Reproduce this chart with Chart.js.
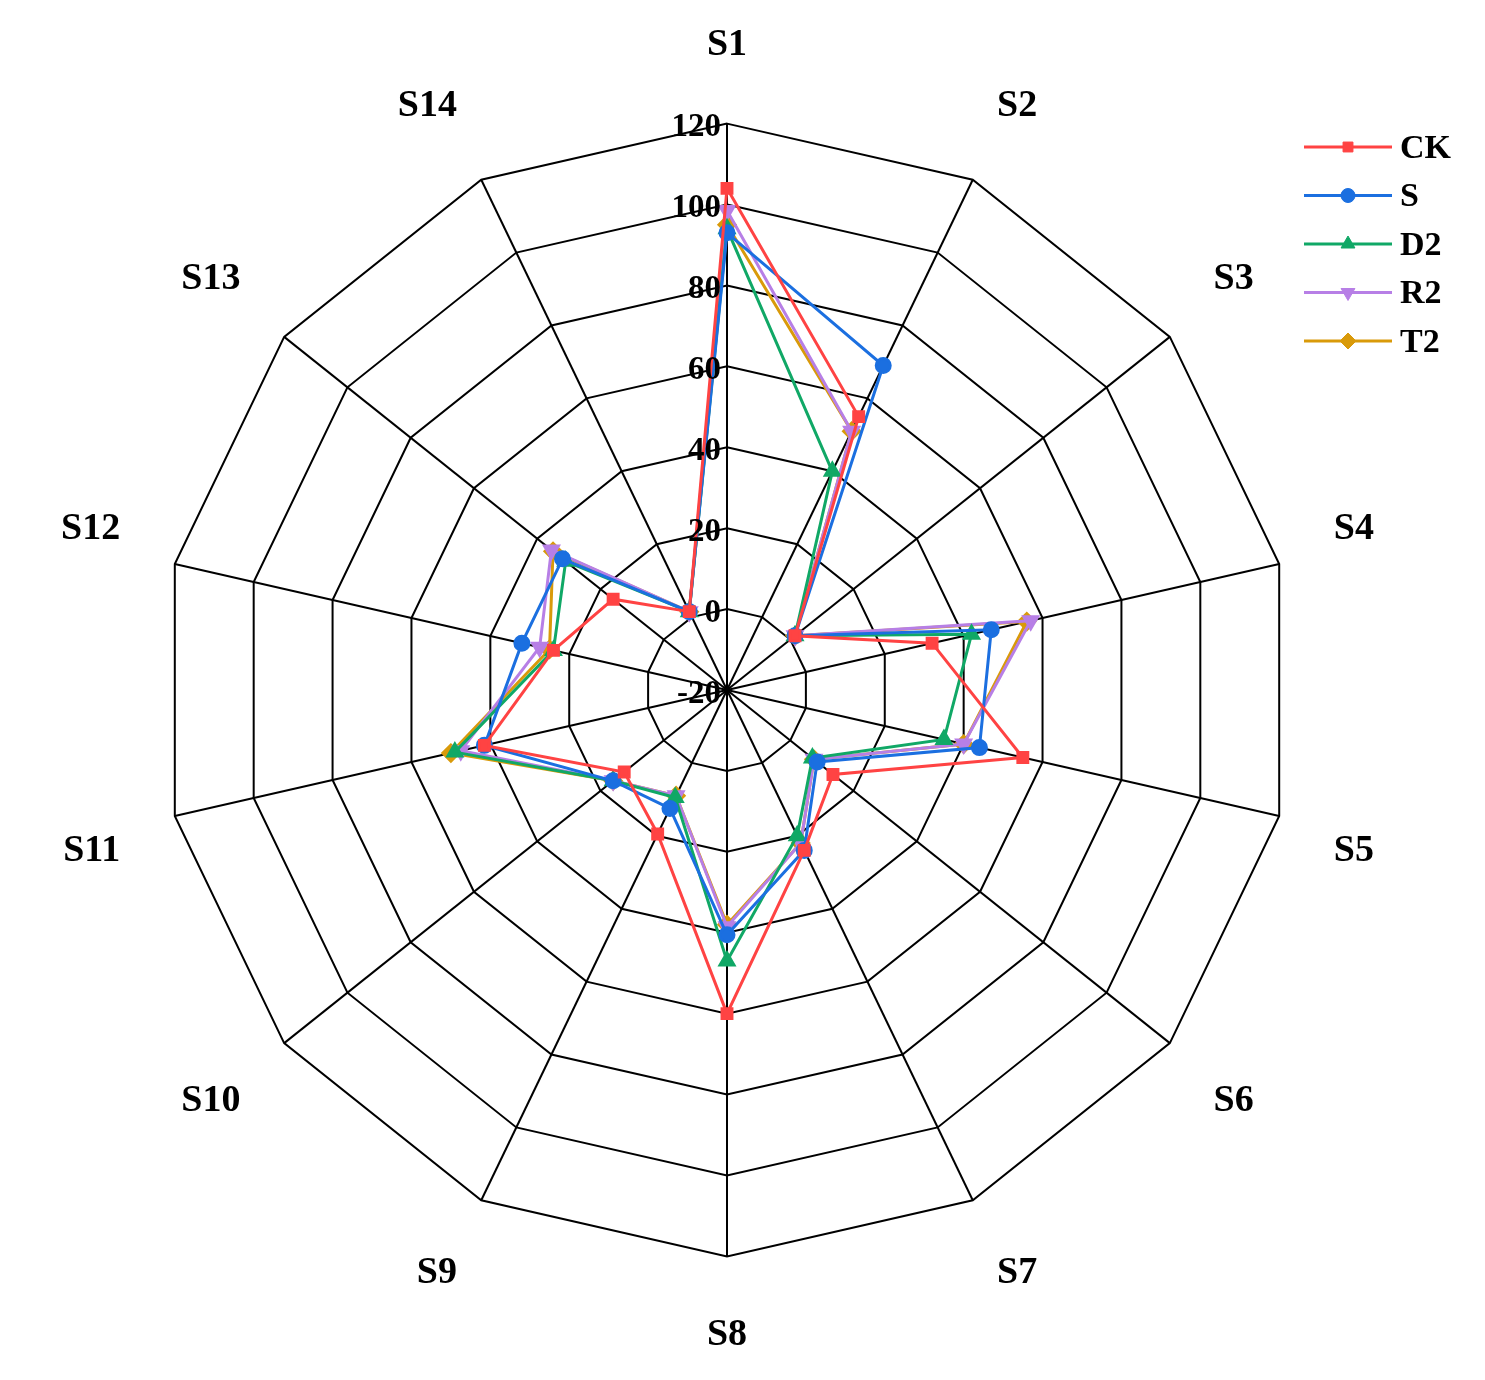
<!DOCTYPE html>
<html><head><meta charset="utf-8">
<script src="https://cdn.jsdelivr.net/npm/chart.js@4"></script>
<style>body{margin:0;background:#fff}#w{width:1485px;height:1380px}</style>
</head><body><div id="w"><canvas id="c"></canvas></div>
<script>
const categories=['S1','S2','S3','S4','S5','S6','S7','S8','S9','S10','S11','S12','S13','S14'];
const CK=[104,55,1.5,32,55,13.5,24,60,19.5,12.5,41.5,24,16,1.5];
const S =[93,69,1.5,47,44,8.5,24,40.5,12.5,16,41.5,32,32,1.5];
const D2=[94,40,1.5,42,35,7,20,47,9.5,16,49,24,31,1.5];
const R2=[98.5,51,1.5,57,40,7.5,22,38.5,9,16,47.5,27.5,35.5,1.5];
const T2=[95,51,1.5,56,40,7.5,22,38,9,16,50,25,35,1.5];
const tickValues=[-20,0,20,40,60,80,100,120];
const seriesNames=['CK','S','D2','R2','T2'];
const colors=['#ff4343','#1b6fe0','#10a866','#b77fe6','#d99a0a'];
const styles=['rect','circle','triangle','triangle','rectRot'];
const rots=[0,0,0,180,0];
const sizes=[7,7,8,8,8];
const font='"Liberation Serif", "Times New Roman", serif';
const data=[CK,S,D2,R2,T2];
new Chart(document.getElementById('c'),{type:'radar',
 data:{labels:categories,datasets:data.map((d,i)=>({label:seriesNames[i],data:d,borderColor:colors[i],backgroundColor:colors[i],
   pointBackgroundColor:colors[i],pointBorderColor:colors[i],pointStyle:styles[i],pointRotation:rots[i],pointRadius:sizes[i],
   borderWidth:3,fill:false,tension:0}))},
 options:{responsive:true,maintainAspectRatio:false,animation:false,
  layout:{padding:{top:22,bottom:22,left:0,right:50}},
  plugins:{legend:{display:false},tooltip:{enabled:false}},
  scales:{r:{min:-20,max:120,ticks:{display:false,stepSize:20},
    grid:{color:'#000',lineWidth:2},angleLines:{color:'#000',lineWidth:2},
    pointLabels:{font:{family:font,size:38,weight:'bold'},color:'#000',padding:56}}}},
 plugins:[{id:'tkmain',afterDraw(ch){
     const c=ch.ctx,sc=ch.scales.r;c.save();c.font='bold 33px '+font;c.fillStyle='#000';c.textAlign='right';c.textBaseline='middle';
     tickValues.forEach(v=>{const d=sc.getDistanceFromCenterForValue(v);c.fillText(String(v),sc.xCenter-6,sc.yCenter-d+4);});
     c.textAlign='left';c.font='bold 34px '+font;
     seriesNames.forEach((n,i)=>{const y=147+i*48.5;c.strokeStyle=colors[i];c.fillStyle=colors[i];c.lineWidth=3;
       c.beginPath();c.moveTo(1304,y);c.lineTo(1392,y);c.stroke();
       c.lineWidth=1;Chart.helpers.drawPoint(c,{pointStyle:styles[i],radius:sizes[i],rotation:rots[i],borderWidth:1},1348,y);
       c.fillStyle='#000';c.fillText(n,1400,y+2);});
     c.restore();}}]});
</script></body></html>
